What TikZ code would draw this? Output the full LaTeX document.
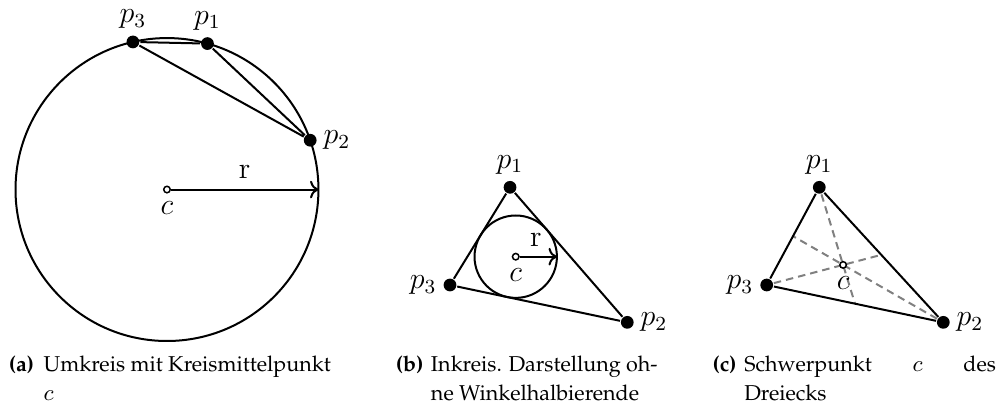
\documentclass[tikz,border=0pt]{standalone}
\usepackage[T1,TU]{fontenc}
\usepackage{tikz}
\usetikzlibrary{positioning,arrows.meta,calc}
\newcommand{\capfont}{\fontencoding{T1}\fontfamily{ppl}\fontsize{8.6}{11.4}\selectfont}

\begin{document}
\begin{tikzpicture}[>=To, thick,
    dot/.style={circle, fill=black, inner sep=0pt, minimum size=5.1pt},
    mid/.style={circle, draw, fill=white, inner sep=0pt, minimum size=2.6pt, line width=0.6pt},
    lbl/.style={inner sep=2pt, font=\large},
    median/.style={gray, dash pattern=on 3pt off 2pt},
    capnum/.style={anchor=base west, inner sep=0pt, font=\capfont\bfseries},
    captext/.style={anchor=base west, inner sep=0pt, align=left, font=\capfont}]
    \useasboundingbox (0,0) rectangle (14.056,5.693);

    % (a) Umkreis
    \node[mid, label={[lbl, inner sep=2.8pt]below:$c$}] (ma) at (2.347,3.029) {};
    \draw (ma.center) circle (2.129);
    \node[dot, label={[lbl]above:$p_1$}] (a1) at ($(ma)+(74.5:2.129)$) {};
    \node[dot, label={[lbl]right:$p_2$}] (a2) at ($(ma)+(19:2.129)$) {};
    \node[dot, label={[lbl]above:$p_3$}] (a3) at ($(ma)+(103:2.129)$) {};
    \draw (a3) -- (a1) -- (a2) -- (a3);
    \coordinate (ra) at ($(ma)+(2.129,0)$);
    \draw[->] (ma) -- node[above, lbl, inner sep=4pt] {r} (ra);

    % (b) Inkreis
    \node[dot, label={[lbl]above:$p_1$}] (b1) at (7.169,3.060) {};
    \node[dot, label={[lbl]right:$p_2$}] (b2) at (8.817,1.162) {};
    \node[dot, label={[lbl]left:$p_3$}] (b3) at (6.325,1.687) {};
    \draw (b1) -- (b2) -- (b3) -- (b1);
    \node[mid, label={[lbl, inner sep=2.8pt]below:$c$}] (mb) at (7.249,2.085) {};
    \draw (mb.center) circle (0.579);
    \coordinate (rb) at ($(mb)+(0.579,0)$);
    \draw[->] (mb) -- node[above, lbl, inner sep=3.5pt, xshift=-1pt] {r} (rb);

    % (c) Schwerpunkt
    \node[dot, label={[lbl]above:$p_1$}] (c1) at (11.516,3.060) {};
    \node[dot, label={[lbl]right:$p_2$}] (c2) at (13.259,1.162) {};
    \node[dot, label={[lbl]left:$p_3$}] (c3) at (10.777,1.687) {};
    \coordinate (m12) at ($(c1)!0.5!(c2)$);
    \coordinate (m23) at ($(c2)!0.5!(c3)$);
    \coordinate (m31) at ($(c3)!0.5!(c1)$);
    \draw[median] (c1) -- (m23);
    \draw[median] (c2) -- (m31);
    \draw[median] (c3) -- (m12);
    \draw (c1) -- (c2) -- (c3) -- (c1);
    \node[mid, label={[lbl, inner sep=2.8pt]below:$c$}] (mc) at ($(c1)!2/3!(m23)$) {};

    % Captions
    \node[capnum] (na) at (0.112,0.471) {(a)};
    \node[captext] (ta) at (0.600,0.070) {Umkreis mit Kreismittelpunkt\\$c$};
    \node[capnum] (nb) at (5.552,0.471) {(b)};
    \node[captext] (tb) at (6.044,0.070) {Inkreis. Darstellung oh-\\ne Winkelhalbierende};
    \node[capnum] (nc) at (10.004,0.471) {(c)};
    \node[captext] (tc) at (10.448,0.070) {\makebox[3.538cm][l]{Schwerpunkt\hfill$c$\hfill des}\\Dreiecks};
\end{tikzpicture}
\end{document}
